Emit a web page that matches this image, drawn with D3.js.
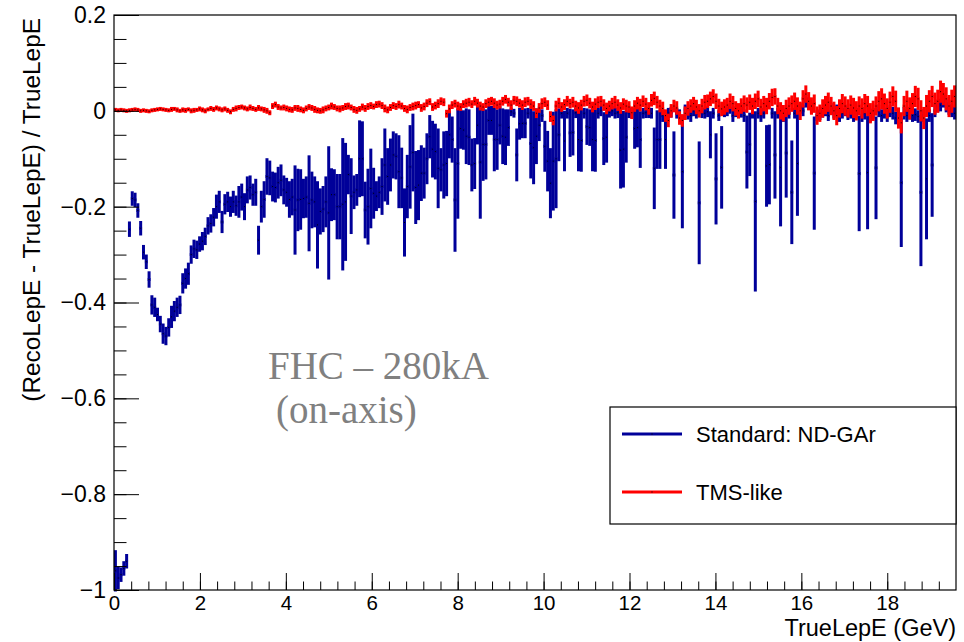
<!DOCTYPE html>
<html><head><meta charset="utf-8">
<script src="https://cdn.jsdelivr.net/npm/d3@7"></script>
<style>
body{margin:0;background:#fff}
svg{display:block}
text{font-family:"Liberation Sans",Arial,Helvetica,sans-serif}
</style>
</head><body>
<svg id="c" width="964" height="642"></svg>
<script>
// ---------------- data ----------------
const xMin = 0, xMax = 19.6, nBins = 300;
const yMin = -1, yMax = 0.2;

const seriesNames = ["Standard: ND-GAr", "TMS-like"];
const xTickValues = [0, 2, 4, 6, 8, 10, 12, 14, 16, 18];
const xTickLabels = ["0", "2", "4", "6", "8", "10", "12", "14", "16", "18"];
const yTickValues = [-1, -0.8, -0.6, -0.4, -0.2, 0, 0.2];
const yTickLabels = ["\u22121", "\u22120.8", "\u22120.6", "\u22120.4", "\u22120.2", "0", "0.2"];
const xTitle = "TrueLepE (GeV)";
const yTitle = "(RecoLepE - TrueLepE) / TrueLepE";
const noteLines = ["FHC \u2013 280kA", "(on-axis)"];

// Standard: ND-GAr (profile mean and error per bin)
const blueMean = [
-0.96,-0.975,-0.968,-0.955,-0.94,-0.247,-0.183,-0.186,-0.208,-0.245,
-0.295,-0.315,-0.352,-0.405,-0.41,-0.425,-0.445,-0.465,-0.47,-0.452,
-0.43,-0.418,-0.41,-0.405,-0.36,-0.35,-0.34,-0.3,-0.288,-0.29,
-0.278,-0.272,-0.262,-0.24,-0.235,-0.222,-0.2,-0.19,-0.232,-0.195,
-0.19,-0.2,-0.19,-0.198,-0.19,-0.18,-0.2,-0.165,-0.16,-0.175,
-0.17,-0.27,-0.2,-0.185,-0.137,-0.14,-0.158,-0.16,-0.15,-0.145,
-0.165,-0.17,-0.185,-0.18,-0.207,-0.186,-0.185,-0.183,-0.18,-0.193,
-0.186,-0.19,-0.238,-0.21,-0.205,-0.19,-0.213,-0.175,-0.175,-0.2,
-0.2,-0.195,-0.19,-0.133,-0.178,-0.17,-0.165,-0.1,-0.1,-0.207,
-0.2,-0.162,-0.172,-0.178,-0.17,-0.158,-0.113,-0.137,-0.113,-0.092,
-0.095,-0.127,-0.14,-0.233,-0.158,-0.117,-0.087,-0.16,-0.155,-0.13,
-0.13,-0.1,-0.054,-0.08,-0.085,-0.12,-0.123,-0.113,-0.11,-0.05,
-0.06,-0.186,-0.11,-0.037,-0.04,-0.053,-0.055,-0.113,-0.11,-0.03,
-0.107,-0.07,-0.07,-0.02,-0.02,-0.06,-0.06,-0.03,-0.053,-0.055,
-0.035,-0.002,-0.005,-0.092,-0.027,-0.026,-0.026,-0.005,-0.068,-0.077,
-0.053,-0.03,-0.01,-0.074,-0.105,-0.151,-0.105,-0.1,-0.05,-0.005,
-0.063,-0.005,-0.046,-0.045,-0.004,-0.06,-0.062,-0.005,-0.033,-0.035,
-0.06,-0.062,-0.005,0,-0.058,-0.055,-0.003,0,-0.005,-0.004,
-0.082,-0.08,-0.055,-0.004,-0.005,-0.037,-0.035,-0.06,-0.005,-0.004,
-0.004,-0.005,-0.12,-0.06,-0.06,-0.01,-0.06,-0.005,-0.003,-0.134,
-0.005,-0.008,-0.127,0.002,-0.005,-0.01,0,-0.005,-0.192,-0.004,
-0.005,-0.002,-0.05,-0.005,-0.142,-0.01,-0.118,-0.002,0,0.005,
-0.01,-0.002,-0.004,-0.003,-0.01,-0.086,-0.07,-0.005,-0.189,-0.005,
-0.01,-0.005,-0.115,-0.112,-0.005,-0.092,-0.005,-0.118,-0.01,-0.088,
-0.005,-0.17,-0.005,-0.11,0.005,0,0.02,0.015,0.005,-0.13,
-0.01,-0.008,-0.003,0,-0.01,0.005,-0.005,0.002,-0.01,-0.005,
0,-0.008,-0.005,-0.01,-0.005,-0.131,-0.01,-0.005,-0.129,-0.01,
-0.005,-0.119,0,-0.01,-0.005,-0.01,0,-0.005,-0.015,-0.005,
-0.15,-0.005,-0.01,-0.005,-0.01,-0.008,-0.012,-0.17,-0.01,-0.142,
-0.01,-0.113,0,0.01,0.012,0.02,0.01,0.005,0,-0.005
];
const blueErr = [
0.04,0.02,0.012,0.012,0.012,0.013,0.012,0.012,0.012,0.012,
0.012,0.012,0.014,0.017,0.017,0.011,0.014,0.018,0.016,0.016,
0.02,0.018,0.017,0.016,0.018,0.018,0.02,0.016,0.016,0.016,
0.013,0.016,0.015,0.015,0.016,0.016,0.022,0.02,0.02,0.018,
0.018,0.018,0.02,0.018,0.03,0.025,0.025,0.025,0.022,0.02,
0.025,0.027,0.03,0.035,0.035,0.033,0.028,0.028,0.03,0.03,
0.027,0.027,0.035,0.035,0.09,0.062,0.06,0.038,0.04,0.097,
0.056,0.05,0.088,0.045,0.045,0.05,0.136,0.052,0.05,0.065,
0.065,0.135,0.12,0.038,0.076,0.032,0.03,0.077,0.075,0.056,
0.076,0.08,0.05,0.028,0.03,0.056,0.073,0.056,0.052,0.046,
0.045,0.073,0.06,0.068,0.063,0.084,0.078,0.073,0.07,0.055,
0.05,0.05,0.042,0.056,0.055,0.08,0.042,0.067,0.065,0.046,
0.045,0.105,0.112,0.039,0.038,0.055,0.055,0.052,0.05,0.037,
0.115,0.073,0.07,0.027,0.027,0.063,0.06,0.037,0.055,0.055,
0.035,0.006,0.006,0.052,0.03,0.028,0.028,0.008,0.07,0.073,
0.055,0.03,0.01,0.05,0.06,0.07,0.1,0.1,0.052,0.008,
0.06,0.008,0.047,0.045,0.008,0.063,0.062,0.008,0.035,0.035,
0.063,0.062,0.008,0.008,0.052,0.05,0.008,0.008,0.008,0.008,
0.077,0.077,0.05,0.008,0.008,0.039,0.038,0.056,0.008,0.008,
0.008,0.008,0.082,0.058,0.058,0.01,0.058,0.008,0.008,0.088,
0.008,0.008,0.115,0.008,0.01,0.01,0.008,0.008,0.125,0.008,
0.008,0.008,0.046,0.008,0.092,0.008,0.083,0.008,0.008,0.008,
0.01,0.008,0.008,0.008,0.01,0.073,0.063,0.008,0.185,0.008,
0.01,0.008,0.082,0.08,0.008,0.088,0.008,0.12,0.01,0.09,
0.008,0.105,0.008,0.106,0.008,0.008,0.01,0.01,0.008,0.115,
0.008,0.008,0.008,0.008,0.008,0.008,0.008,0.008,0.01,0.008,
0.008,0.008,0.008,0.01,0.008,0.117,0.01,0.01,0.115,0.01,
0.008,0.104,0.01,0.01,0.008,0.01,0.01,0.01,0.01,0.008,
0.131,0.01,0.01,0.01,0.01,0.01,0.01,0.151,0.01,0.123,
0.01,0.105,0.01,0.01,0.01,0.01,0.01,0.01,0.01,0.01
];

// TMS-like (profile mean and error per bin)
const redMean = [
0.002,0.001,0.002,0.001,0.0,0.001,0.002,0.003,0.002,0.0,
0.001,0.0,-0.001,0.001,0.002,0.003,0.004,0.003,0.002,0.001,0.003,
0.004,0.002,0.0,0.002,0.001,0.003,0.0,0.001,0.002,0.004,0.002,0.0,0.003,0.005,0.003,
0.006,0.004,0.002,0.004,0.001,-0.002,0.003,0.005,0.007,0.008,0.006,0.004,0.007,0.005,
0.003,0.006,0.004,0.002,0.0,-0.004,
0.01,0.013,0.008,0.006,0.007,0.005,0.003,0.002,0.006,0.005,0.003,0.001,0.005,0.008,
0.006,0.003,0.001,0.0,0.002,0.005,0.007,0.01,0.008,0.005,0.004,0.006,0.009,0.01,
0.007,0.003,0.001,0.004,0.008,0.005,0.009,
0.011,0.009,0.013,0.014,0.011,0.005,0.002,0.007,0.011,0.009,0.013,0.01,0.005,0.003,
0.007,0.009,0.011,0.013,0.006,0.009,0.016,0.019,0.008,0.011,0.015,0.02,0.018,-0.006,
0.004,0.012,0.015,0.01,0.008,0.014,0.016,
0.018,0.014,0.02,0.016,0.01,0.008,0.015,0.018,0.02,0.016,0.012,0.014,0.02,0.024,
0.018,0.012,0.022,0.02,0.016,0.012,0.018,0.02,0.014,0.01,-0.005,0.006,0.015,0.018,
0.012,-0.012,-0.02,0.01,0.016,0.008,0.013,
0.02,0.015,0.018,0.01,0.006,0.012,0.02,0.022,0.016,0.008,0.014,0.018,0.02,0.012,
0.005,0.01,0.015,0.018,0.012,0.006,0.014,0.01,0.008,-0.004,0.01,0.016,0.012,0.02,
0.014,0.005,0.022,0.026,0.018,0.01,0.005,
-0.01,-0.02,0.0,0.01,0.006,-0.015,-0.02,-0.005,0.005,0.01,0.015,0.008,0.0,0.01,
0.018,0.02,0.025,0.03,0.02,0.01,0.004,0.008,0.012,0.02,0.015,0.005,0.0,0.01,
0.015,0.012,0.018,0.01,0.02,0.025,0.008,
0.015,0.01,0.02,0.028,0.03,0.01,0.0,-0.005,0.005,0.01,0.015,0.02,0.01,0.0,
0.025,0.035,0.02,0.01,0.015,-0.01,-0.005,0.005,0.012,0.018,0.01,0.0,-0.01,0.005,
0.015,0.01,0.005,0.012,0.006,0.0,0.01,
0.005,0.015,0.01,-0.005,0.0,0.01,0.02,0.025,0.015,0.005,0.018,0.03,0.02,-0.015,
-0.025,0.01,0.02,0.005,0.015,0.03,0.025,0.0,-0.015,0.01,0.02,0.03,0.015,0.02,
0.04,0.035,0.025,0.01,0.02,0.03
];
const redErr = [
0.001,0.001,0.001,0.001,0.001,0.001,0.001,0.001,0.001,0.001,
0.001,0.001,0.001,0.001,0.001,0.001,0.001,0.001,0.001,0.001,
0.002,0.001,0.002,0.001,0.002,0.002,0.001,0.002,0.002,0.001,
0.002,0.002,0.002,0.001,0.002,0.002,0.002,0.002,0.002,0.002,
0.002,0.002,0.002,0.003,0.002,0.002,0.002,0.002,0.003,0.002,
0.002,0.003,0.002,0.003,0.003,0.002,0.003,0.003,0.003,0.002,
0.003,0.003,0.003,0.003,0.003,0.004,0.003,0.003,0.003,0.003,
0.003,0.004,0.003,0.003,0.004,0.003,0.003,0.004,0.003,0.003,
0.004,0.003,0.004,0.004,0.003,0.004,0.004,0.003,0.004,0.004,
0.004,0.004,0.003,0.004,0.004,0.004,0.005,0.004,0.004,0.004,
0.004,0.005,0.004,0.004,0.005,0.004,0.005,0.005,0.004,0.005,
0.005,0.005,0.004,0.005,0.005,0.006,0.005,0.005,0.005,0.006,
0.005,0.005,0.006,0.005,0.005,0.006,0.006,0.005,0.006,0.006,
0.006,0.005,0.006,0.006,0.006,0.007,0.006,0.006,0.006,0.006,
0.006,0.007,0.006,0.007,0.006,0.007,0.007,0.006,0.007,0.007,
0.007,0.007,0.008,0.007,0.007,0.008,0.007,0.008,0.008,0.007,
0.008,0.008,0.007,0.008,0.008,0.009,0.008,0.008,0.009,0.008,
0.008,0.009,0.009,0.008,0.009,0.009,0.008,0.009,0.01,0.009,
0.009,0.009,0.01,0.009,0.01,0.009,0.01,0.01,0.009,0.01,
0.01,0.01,0.011,0.01,0.01,0.011,0.01,0.011,0.011,0.01,
0.011,0.011,0.01,0.011,0.012,0.011,0.011,0.012,0.011,0.012,
0.012,0.011,0.012,0.012,0.013,0.012,0.012,0.013,0.012,0.013,
0.013,0.012,0.013,0.013,0.014,0.013,0.013,0.014,0.013,0.014,
0.014,0.013,0.014,0.014,0.015,0.014,0.014,0.015,0.014,0.015,
0.015,0.014,0.015,0.015,0.016,0.015,0.015,0.016,0.015,0.016,
0.016,0.015,0.016,0.016,0.017,0.016,0.016,0.017,0.016,0.017,
0.017,0.016,0.017,0.018,0.017,0.017,0.018,0.017,0.018,0.018,
0.018,0.017,0.018,0.019,0.018,0.018,0.019,0.018,0.019,0.019,
0.019,0.018,0.019,0.02,0.019,0.019,0.02,0.019,0.02,0.02,
0.02,0.019,0.02,0.021,0.02,0.02,0.021,0.02,0.021,0.02
];

const seriesColors = ["#000099", "#ff0000"];

// ---------------- layout ----------------
const L = 114, R = 956, T = 15, B = 590;
const x = d3.scaleLinear().domain([xMin, xMax]).range([L, R]);
const y = d3.scaleLinear().domain([yMin, yMax]).range([B, T]);
const svg = d3.select("#c");
svg.append("rect").attr("width", 964).attr("height", 642).attr("fill", "#fff");

const binW = (xMax - xMin) / nBins;

function drawSeries(mean, err, color) {
  const bins = mean.map((m, i) => ({ lo: xMin + i * binW, hi: xMin + (i + 1) * binW, m: m, e: err[i] || 0 }));
  const g = svg.append("g");
  g.selectAll("line.v").data(bins).join("line").attr("class", "v")
    .attr("x1", d => x((d.lo + d.hi) / 2)).attr("x2", d => x((d.lo + d.hi) / 2))
    .attr("y1", d => y(d.m + d.e)).attr("y2", d => y(d.m - d.e))
    .attr("stroke", color).attr("stroke-width", 3).attr("stroke-linecap", "square");
  g.selectAll("line.h").data(bins).join("line").attr("class", "h")
    .attr("x1", d => x(d.lo)).attr("x2", d => x(d.hi))
    .attr("y1", d => y(d.m)).attr("y2", d => y(d.m))
    .attr("stroke", color).attr("stroke-width", 3);
  g.selectAll("rect.dot").data(bins).join("rect").attr("class", "dot")
    .attr("x", d => x((d.lo + d.hi) / 2) - 0.5).attr("y", d => y(d.m) - 0.5)
    .attr("width", 1).attr("height", 1).attr("fill", "#000");
}

drawSeries(blueMean, blueErr, seriesColors[0]);
drawSeries(redMean, redErr, seriesColors[1]);

// ---------------- axes ----------------
const xMinor = d3.range(0, 49).map(i => i * 0.4).filter(v => v <= xMax + 1e-9);
const yMinor = d3.range(0, 25).map(i => yMin + i * 0.05);

const gx = svg.append("g").attr("transform", `translate(0,${B})`)
  .call(d3.axisBottom(x).tickValues(xTickValues).tickFormat((d, i) => xTickLabels[i]).tickSize(-17).tickPadding(5));
gx.select(".domain").remove();
gx.selectAll("text").attr("font-size", 20.5).attr("fill", "#000");
gx.selectAll("line").attr("stroke", "#000");
const gxm = svg.append("g").attr("transform", `translate(0,${B})`)
  .call(d3.axisBottom(x).tickValues(xMinor).tickFormat("").tickSize(-8.5));
gxm.select(".domain").remove();
gxm.selectAll("line").attr("stroke", "#000");

const gy = svg.append("g").attr("transform", `translate(${L},0)`)
  .call(d3.axisLeft(y).tickValues(yTickValues).tickFormat((d, i) => yTickLabels[i]).tickSize(-25).tickPadding(8));
gy.select(".domain").remove();
gy.selectAll("text").attr("font-size", 23).attr("fill", "#000");
gy.selectAll("line").attr("stroke", "#000");
const gym = svg.append("g").attr("transform", `translate(${L},0)`)
  .call(d3.axisLeft(y).tickValues(yMinor).tickFormat("").tickSize(-12.5));
gym.select(".domain").remove();
gym.selectAll("line").attr("stroke", "#000");

// frame
svg.append("rect").attr("x", L).attr("y", T).attr("width", R - L).attr("height", B - T)
  .attr("fill", "none").attr("stroke", "#000").attr("stroke-width", 1.2);

// titles
svg.append("text").attr("x", R).attr("y", 636).attr("text-anchor", "end")
  .attr("font-size", 23.5).text(xTitle);
svg.append("text").attr("transform", "translate(40,18) rotate(-90)").attr("text-anchor", "end")
  .attr("font-size", 24.4).text(yTitle);

// annotation (one text block, two lines)
const note = svg.append("text")
  .style("font-family", "'Liberation Serif','Times New Roman',serif")
  .attr("font-size", 39).attr("fill", "#808080");
note.append("tspan").attr("x", 268).attr("y", 379).text(noteLines[0]);
note.append("tspan").attr("x", 276).attr("y", 423).text(noteLines[1]);

// legend
const lg = svg.append("g");
lg.append("rect").attr("x", 610).attr("y", 407).attr("width", 346).attr("height", 117)
  .attr("fill", "#fff").attr("stroke", "#000").attr("stroke-width", 1.2);
const legY = [434, 492];
seriesNames.forEach((name, i) => {
  lg.append("line").attr("x1", 622).attr("x2", 682).attr("y1", legY[i]).attr("y2", legY[i])
    .attr("stroke", seriesColors[i]).attr("stroke-width", 3);
  lg.append("rect").attr("x", 651.5).attr("y", legY[i] - 0.5).attr("width", 1).attr("height", 1).attr("fill", "#000");
  lg.append("text").attr("x", 696).attr("y", legY[i]).attr("dy", "0.36em")
    .attr("font-size", 22).text(name);
});
</script>
</body></html>
